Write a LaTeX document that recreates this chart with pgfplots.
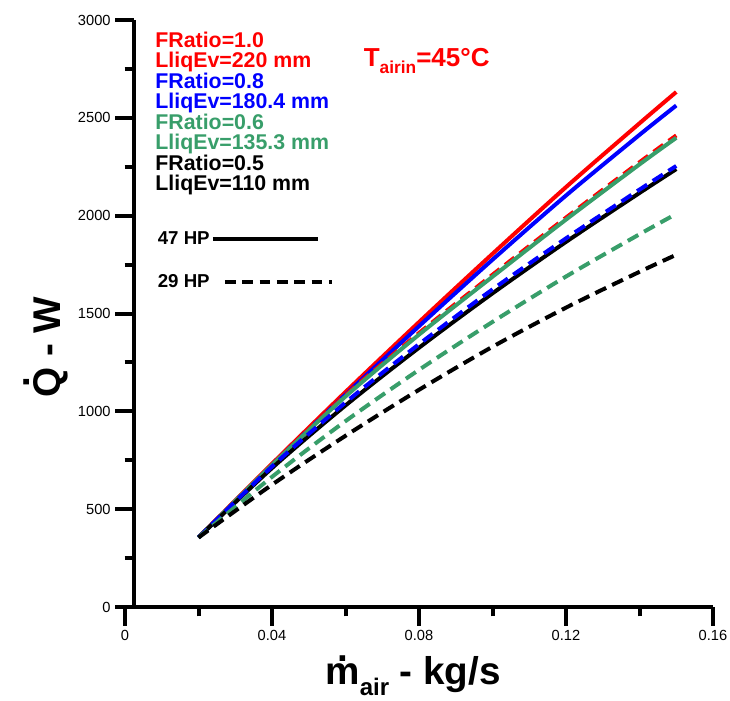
\documentclass[border=0pt]{standalone}
\usepackage{pgfplots}
\pgfplotsset{compat=1.18}
\usepackage{fontspec}
\setmainfont{Liberation Sans}
\definecolor{cgreen}{RGB}{56,158,106}
\pgfplotsset{
 every tick/.append style={line width=3pt},
 every major tick/.append style={line width=3pt},
 every minor tick/.append style={line width=3pt},
 every x tick/.append style={line width=3pt},
 every y tick/.append style={line width=3pt},
}
\begin{document}
\begin{tikzpicture}
\begin{axis}[
 scale only axis, width=441pt, height=440.25pt,
 xmin=0, xmax=0.16, ymin=0, ymax=3000,
 axis x line*=bottom, axis y line*=left,
 axis y line shift=-6.75pt,
 axis line style={line width=3pt, -},
 xtick={0,0.04,0.08,0.12,0.16}, xticklabels={0,0.04,0.08,0.12,0.16},
 minor xtick={0.02,0.06,0.10,0.14},
 ytick={0,500,1000,1500,2000,2500,3000},
 yticklabels={0,500,1000,1500,2000,2500,3000},
 minor ytick={250,750,1250,1750,2250,2750},
 tick align=outside,
 major tick length=14pt, minor tick length=7pt,
 tick style={black, line width=3pt},
 x tick style={line width=3pt},
 y tick style={line width=3pt},
 tick label style={font=\fontsize{11}{13}\selectfont},
 /pgf/number format/assume math mode=true,
 xlabel={\rlap{\hspace{0.305em}\raisebox{0.6em}{.}}m\raisebox{-0.3em}{\fontsize{18}{18}\selectfont air} - kg/s},
 ylabel={\rlap{\hspace{0.25em}\raisebox{0.8em}{.}}Q - W},
 label style={font=\fontsize{29}{32}\selectfont\bfseries},
 xlabel style={at={(axis description cs:0.49,-0.117)}, anchor=center},
 ylabel style={at={(axis description cs:-0.135,0.443)}, anchor=center},
 clip=false,
 legend style={draw=none, fill=none, at={(axis cs:0.0085,1925)}, anchor=north west,
   font=\fontsize{14}{15}\selectfont\bfseries, row sep=19pt, inner sep=0pt,
   nodes={inner sep=1pt}},
 legend plot pos=right, legend cell align=left,
]
\addlegendimage{legend image code/.code={\draw[black, line width=2.8pt] (0pt,0pt) -- (79pt,0pt);}}
\addlegendentry{47 HP}
\addlegendimage{legend image code/.code={\draw[black, line width=2.8pt, dash pattern=on 8pt off 5pt] (9pt,0pt) -- (89pt,0pt);}}
\addlegendentry{29 HP}

% 47 HP solid, 29 HP dashed
\addplot[forget plot, red, line width=3pt, smooth] coordinates {(0.02,355) (0.04,732) (0.06,1099) (0.08,1456) (0.10,1805) (0.12,2146) (0.14,2472) (0.15,2632)};
\addplot[forget plot, blue, line width=3pt, smooth] coordinates {(0.02,355) (0.04,725) (0.06,1085) (0.08,1435) (0.10,1775) (0.12,2103) (0.14,2413) (0.15,2563)};
\addplot[forget plot, red, line width=3pt, dash pattern=on 9pt off 5pt, smooth] coordinates {(0.02,355) (0.04,728) (0.06,1082) (0.08,1400) (0.10,1698) (0.12,1990) (0.14,2273) (0.15,2410)};
\addplot[forget plot, cgreen, line width=3pt, smooth] coordinates {(0.02,355) (0.04,726) (0.06,1076) (0.08,1392) (0.10,1688) (0.12,1980) (0.14,2262) (0.15,2398)};
\addplot[forget plot, black, line width=3pt, smooth] coordinates {(0.02,355) (0.04,710) (0.06,1030) (0.08,1325) (0.10,1603) (0.12,1866) (0.14,2116) (0.15,2238)};
\addplot[forget plot, blue, line width=3pt, dash pattern=on 9pt off 5pt, smooth] coordinates {(0.02,355) (0.04,718) (0.06,1045) (0.08,1343) (0.10,1623) (0.12,1884) (0.14,2133) (0.15,2254)};
\addplot[forget plot, cgreen, line width=3pt, dash pattern=on 9pt off 5pt, smooth] coordinates {(0.02,355) (0.04,665) (0.06,950) (0.08,1212) (0.10,1457) (0.12,1689) (0.14,1905) (0.15,2009)};
\addplot[forget plot, black, line width=3pt, dash pattern=on 9pt off 5pt, smooth] coordinates {(0.02,355) (0.04,625) (0.06,875) (0.08,1110) (0.10,1330) (0.12,1530) (0.14,1713) (0.15,1800)};

\node[anchor=north west, inner sep=0pt, align=left, font=\fontsize{16}{14.8}\selectfont\bfseries]
  at (axis cs:0.0082,2938) {\textcolor{red}{FRatio=1.0}\\\textcolor{red}{LliqEv=220 mm}\\
  \textcolor{blue}{FRatio=0.8}\\\textcolor{blue}{LliqEv=180.4 mm}\\
  \textcolor{cgreen}{FRatio=0.6}\\\textcolor{cgreen}{LliqEv=135.3 mm}\\
  FRatio=0.5\\LliqEv=110 mm};
\node[anchor=base west, inner sep=0pt, text=red, font=\fontsize{19.5}{21}\selectfont\bfseries]
  at (axis cs:0.0649,2760) {T\raisebox{-0.25em}{\fontsize{13}{13}\selectfont airin}=45°C};
\end{axis}
\pgfresetboundingbox
\path (-93.75pt,-69.75pt) rectangle (453.75pt,455.25pt);
\end{tikzpicture}
\end{document}
